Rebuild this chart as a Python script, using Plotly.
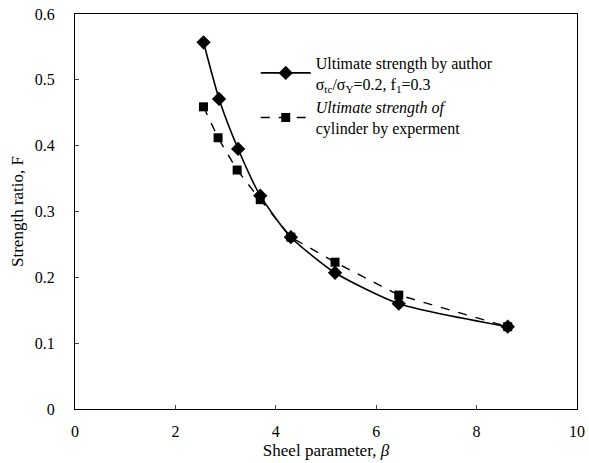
import plotly.graph_objects as go

beta_author = [2.56, 2.87, 3.25, 3.69, 4.30, 5.18, 6.45, 8.62]
F_author = [0.557, 0.471, 0.395, 0.324, 0.261, 0.207, 0.160, 0.125]

beta_exp = [2.56, 2.85, 3.23, 3.69, 4.30, 5.18, 6.45, 8.62]
F_exp = [0.459, 0.412, 0.363, 0.318, 0.261, 0.223, 0.173, 0.125]

x_ticks = [0, 2, 4, 6, 8, 10]
y_ticks = [0, 0.1, 0.2, 0.3, 0.4, 0.5, 0.6]
y_tick_labels = ["0", "0.1", "0.2", "0.3", "0.4", "0.5", "0.6"]

name_author = "Ultimate strength by author<br>σ<sub>tc</sub>/σ<sub>Y</sub>=0.2, f<sub>1</sub>=0.3"
name_exp = "<i>Ultimate strength of</i><br>cylinder by experment"

fig = go.Figure()
fig.add_trace(go.Scatter(
    x=beta_author, y=F_author, name=name_author,
    mode="lines+markers",
    line=dict(color="black", width=1.6, shape="spline", smoothing=0.6),
    marker=dict(symbol="diamond", size=11, color="black"),
))
fig.add_trace(go.Scatter(
    x=beta_exp, y=F_exp, name=name_exp,
    mode="lines+markers",
    line=dict(color="black", width=1.4, dash="dash"),
    marker=dict(symbol="square", size=9, color="black"),
))

fig.update_layout(
    width=589, height=463,
    margin=dict(l=75, r=12, t=14, b=54, autoexpand=False),
    paper_bgcolor="white", plot_bgcolor="white",
    font=dict(family="Liberation Serif", size=16, color="black"),
    legend=dict(
        x=0.36, y=0.92, xanchor="left", yanchor="top",
        bgcolor="rgba(0,0,0,0)", font=dict(size=16),
        itemwidth=50, tracegroupgap=6,
    ),
    xaxis=dict(
        range=[0, 10], tickvals=x_ticks, ticks="inside", ticklen=4,
        showline=True, linecolor="black", linewidth=1.2, mirror=True,
        showgrid=False, zeroline=False, automargin=False,
        ticklabelstandoff=8,
        title=dict(text="Sheel parameter, <i>β</i>", standoff=4, font=dict(size=17)),
    ),
    yaxis=dict(
        range=[0, 0.6], tickvals=y_ticks, ticktext=y_tick_labels,
        ticks="inside", ticklen=4,
        showline=True, linecolor="black", linewidth=1.2, mirror=True,
        showgrid=False, zeroline=False, automargin=False,
        ticklabelstandoff=16,
        title=dict(text="Strength ratio, F", standoff=6, font=dict(size=17)),
    ),
)

fig.write_html("out.html", config={"displayModeBar": False},
               post_script="document.body.style.margin='0';")
